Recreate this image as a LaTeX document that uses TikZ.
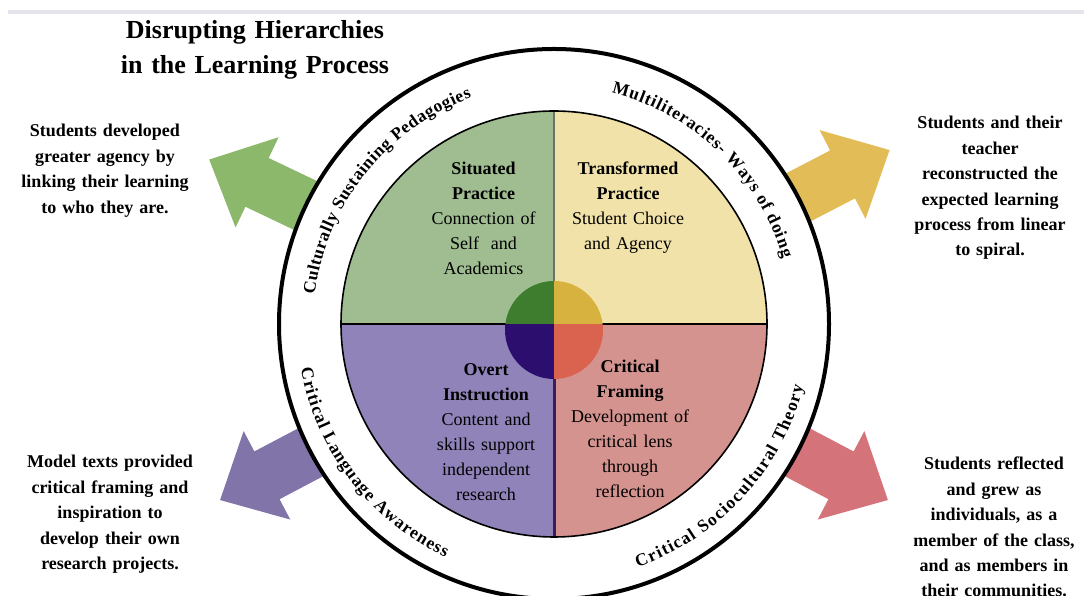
\documentclass[tikz,border=0pt]{standalone}
\usepackage{fontspec}
\setmainfont{Liberation Serif}
\usetikzlibrary{decorations.text}

% quadrant fills
\definecolor{quadgreen}{HTML}{9FBD91}
\definecolor{quadyellow}{HTML}{F1E2A9}
\definecolor{quadpurple}{HTML}{9083B9}
\definecolor{quadred}{HTML}{D4938F}
% hub fills
\definecolor{hubgreen}{HTML}{3E7D2E}
\definecolor{hubgold}{HTML}{D8B23E}
\definecolor{hubnavy}{HTML}{2B0E6E}
\definecolor{hubred}{HTML}{D9634E}
% outward arrows
\definecolor{arrgreen}{HTML}{8CB86B}
\definecolor{arrgold}{HTML}{E2BD57}
\definecolor{arrpurple}{HTML}{8174A8}
\definecolor{arrred}{HTML}{D5737A}
% lines
\definecolor{divgray}{HTML}{6E7369}
\definecolor{divpurple}{HTML}{3C1E5A}
\definecolor{rulegray}{HTML}{E4E4EA}

\newcommand\ringfont{\bfseries\fontsize{17.5}{17.5}\selectfont}

% block arrow pointing away from the hub: #1 angle, #2 tip distance, #3 colour
\newcommand\outarrow[3]{%
  \begin{scope}[shift={(554,272)}, rotate=#1]
    \fill[#3] (235,-27) -- ({#2-53},-27) -- ({#2-53},-50) -- (#2,0)
      -- ({#2-53},50) -- ({#2-53},27) -- (235,27) -- cycle;
  \end{scope}}

\begin{document}
\begin{tikzpicture}[x=1pt, y=1pt,
  titletext/.style={text width=320pt, align=center, anchor=base, inner sep=0pt,
    font=\bfseries\fontsize{26}{35}\selectfont},
  sidetext/.style={text width=200pt, align=center, anchor=base, inner sep=0pt,
    font=\bfseries\fontsize{18}{25.4}\selectfont},
  quadtext/.style={text width=170pt, align=center, anchor=base, inner sep=0pt,
    font=\fontsize{18}{25}\selectfont},
  ringlabel/.style={decorate, decoration={text along path, text align={fit to path},
    text={|\ringfont|#1}}}
]
\useasboundingbox (0,0) rectangle (1084,596);

% thin rule along the top
\fill[rulegray] (8,582) rectangle (1084,586);

% outward arrows (tails hidden under the ring)
\outarrow{154.5}{382}{arrgreen}
\outarrow{27.4}{378}{arrgold}
\outarrow{207.8}{377.5}{arrpurple}
\outarrow{332.2}{377.5}{arrred}

% outer ring
\draw[line width=4pt, fill=white] (554,272) circle[radius=275];

% four quadrants
\begin{scope}
  \clip (554,272) circle[radius=213];
  \fill[quadgreen]  (330,272) rectangle (554,490);
  \fill[quadyellow] (554,272) rectangle (780,490);
  \fill[quadpurple] (330,272) rectangle (554,55);
  \fill[quadred]    (554,272) rectangle (780,55);
\end{scope}
\draw[line width=2pt, divgray] (554,272) -- (554,485);
\draw[line width=3pt, divpurple] (554,272) -- (554,60);
\draw[line width=1.6pt] (554,272) circle[radius=213];
\draw[line width=2pt] (341,272) -- (767,272);

% hub
\begin{scope}
  \clip (554,266) circle[radius=49];
  \fill[hubgreen] (500,272) rectangle (554,320);
  \fill[hubgold]  (554,272) rectangle (610,320);
  \fill[hubnavy]  (500,272) rectangle (554,210);
  \fill[hubred]   (554,272) rectangle (610,210);
\end{scope}

% title
\node[titletext] (title) at (255,557) {Disrupting Hierarchies\\in the Learning Process};

% quadrant texts
\node[quadtext] (situated) at (483.5,421)
  {\textbf{Situated}\\\textbf{Practice}\\Connection of\\Self\ \ and\\Academics};
\node[quadtext] (transformed) at (628,421)
  {\textbf{Transformed}\\\textbf{Practice}\\Student Choice\\and Agency};
\node[quadtext] (overt) at (486,220)
  {\textbf{Overt}\\\textbf{Instruction}\\Content and\\skills support\\independent\\research};
\node[quadtext] (framing) at (630,223)
  {\textbf{Critical}\\\textbf{Framing}\\Development of\\critical lens\\through\\reflection};

% outcomes beside the arrows
\node[sidetext] (agency) at (105,459)
  {Students developed\\greater agency by\\linking their learning\\to who they are.};
\node[sidetext] (spiral) at (990,467)
  {Students and their\\teacher\\reconstructed the\\expected learning\\process from linear\\to spiral.};
\node[sidetext] (models) at (110,128)
  {Model texts provided\\critical framing and\\inspiration to\\develop their own\\research projects.};
\node[sidetext] (grew) at (994,126)
  {Students reflected\\and grew as\\individuals, as a\\member of the class,\\and as members in\\their communities.};

% labels around the ring
\path[ringlabel={Culturally Sustaining Pedagogies}]
  (554,272) ++(173:241) arc[start angle=173, end angle=110, radius=241];
\path[ringlabel={Multiliteracies- Ways of doing}]
  (554,272) ++(76:238) arc[start angle=76, end angle=16, radius=238];
\path[ringlabel={Critical Language Awareness}]
  (554,272) ++(190:257) arc[start angle=190, end angle=245, radius=257];
\path[ringlabel={Critical Sociocultural Theory}]
  (554,272) ++(289:257) arc[start angle=289, end angle=346, radius=257];
\end{tikzpicture}
\end{document}
